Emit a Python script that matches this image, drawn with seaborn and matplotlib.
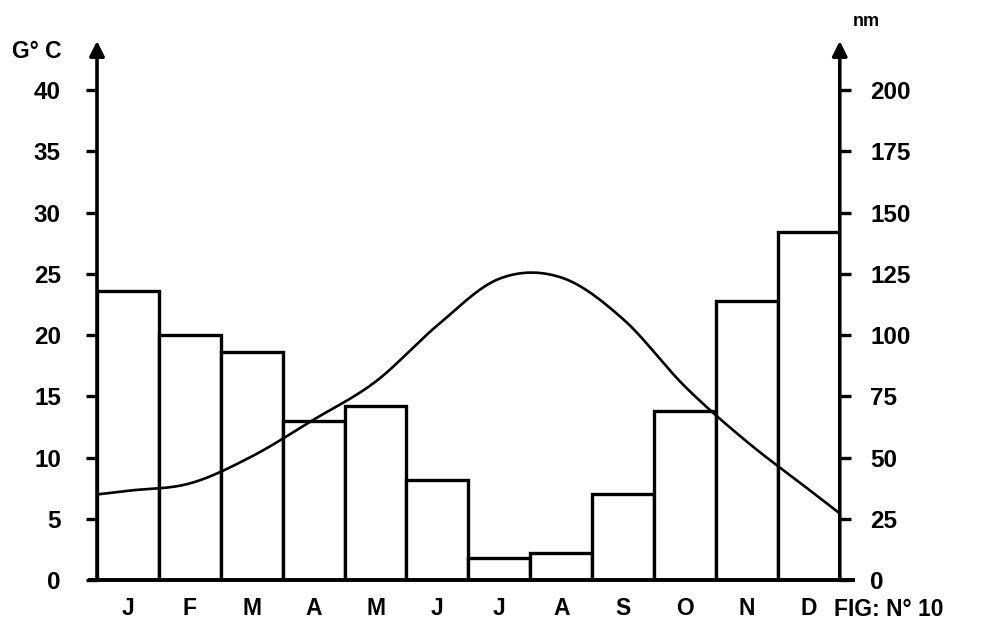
import numpy as np
import pandas as pd
import matplotlib
matplotlib.use("Agg")
import matplotlib.pyplot as plt
import seaborn as sns

# Monthly climate data
months = ["J", "F", "M", "A", "M", "J", "J", "A", "S", "O", "N", "D"]
precip_mm = [118, 100, 93, 65, 71, 41, 9, 11, 35, 69, 114, 142]
temp_c = [7.3, 7.9, 10.1, 13.1, 16.2, 20.8, 24.6, 24.7, 21.3, 15.8, 11.3, 7.4]
temp_ticks = [0, 5, 10, 15, 20, 25, 30, 35, 40]
precip_ticks = [0, 25, 50, 75, 100, 125, 150, 175, 200]

sns.set_style("white")
plt.rcParams["font.family"] = ["Liberation Sans", "DejaVu Sans"]
plt.rcParams["font.weight"] = "bold"
plt.rcParams["text.color"] = "black"

FS = 17.5


def smooth_curve(vals, steps=30):
    """Cubic Hermite curve through monthly values, extended to the bar edges."""
    p = np.asarray(vals, dtype=float)
    m = np.gradient(p)
    xs = [-0.5]
    ys = [p[0] - 0.5 * m[0]]
    for i in range(len(p) - 1):
        t = np.linspace(0, 1, steps, endpoint=False)
        h00 = 2 * t**3 - 3 * t**2 + 1
        h10 = t**3 - 2 * t**2 + t
        h01 = -2 * t**3 + 3 * t**2
        h11 = t**3 - t**2
        xs.extend(i + t)
        ys.extend(h00 * p[i] + h10 * m[i] + h01 * p[i + 1] + h11 * m[i + 1])
    xs.append(len(p) - 1)
    ys.append(p[-1])
    xs.append(len(p) - 0.5)
    ys.append(p[-1] + 0.5 * m[-1])
    return np.array(xs), np.array(ys)


df = pd.DataFrame({"idx": np.arange(len(months)), "precip": precip_mm})

fig = plt.figure(figsize=(9.97, 6.30), dpi=100)
ax = fig.add_axes([0.0973, 0.079, 0.745, 0.856])

# precipitation bars (mm, right-hand scale)
sns.barplot(data=df, x="idx", y="precip", ax=ax, width=1.0, color="white",
            edgecolor="black", linewidth=2.4, saturation=1)
ax.set_xlim(-0.5, 11.5)
ax.set_ylim(0, 220)
ax.set_xticks(range(len(months)))
ax.set_xticklabels(months)
ax.tick_params(axis="x", bottom=False, length=0, pad=12, labelsize=FS - 1,
               labelcolor="black")
ax.set_xlabel("")
ax.set_ylabel("")

# temperature curve (°C, left-hand scale)
axt = ax.twinx()
tx, ty = smooth_curve(temp_c)
sns.lineplot(x=tx, y=ty, ax=axt, color="black", linewidth=1.9, sort=False)
axt.set_ylim(0, 44)
axt.set_xlim(-0.5, 11.5)
axt.set_ylabel("")

# precipitation ticks on the right, temperature ticks on the left
ax.yaxis.tick_right()
ax.set_yticks(precip_ticks)
ax.set_yticklabels([str(v) for v in precip_ticks])
ax.tick_params(axis="y", left=False, right=True, labelleft=False,
               labelright=True, direction="out", length=8, width=2.4,
               pad=14, labelsize=FS, colors="black")

axt.yaxis.tick_left()
axt.set_yticks(temp_ticks)
axt.set_yticklabels([str(v) for v in temp_ticks])
axt.tick_params(axis="y", left=True, right=False, labelleft=True,
                labelright=False, direction="out", length=8, width=2.4,
                pad=18, labelsize=FS, colors="black")

for a in (ax, axt):
    for s in a.spines.values():
        s.set_visible(False)

# baseline and arrowed vertical axes
ax.plot([-0.012, 1.02], [0, 0], transform=ax.transAxes, color="black",
        lw=2.8, clip_on=False, solid_capstyle="butt")
for xpos in (0.0, 1.0):
    ax.annotate("", xy=(xpos, 1.0), xytext=(xpos, 0.0),
                xycoords="axes fraction", textcoords="axes fraction",
                arrowprops=dict(arrowstyle="-|>", lw=2.6, color="black",
                                mutation_scale=22, shrinkA=0, shrinkB=0))

fig.text(12 / 997, 1 - 52 / 630, "G° C", fontsize=FS - 1, ha="left",
         va="center")
fig.text(853 / 997, 1 - 22 / 630, "nm", fontsize=13, ha="left", va="center")
fig.text(834 / 997, 1 - 610 / 630, "FIG: N° 10", fontsize=FS - 1, ha="left",
         va="center")

fig.savefig("out.png", dpi=100)
